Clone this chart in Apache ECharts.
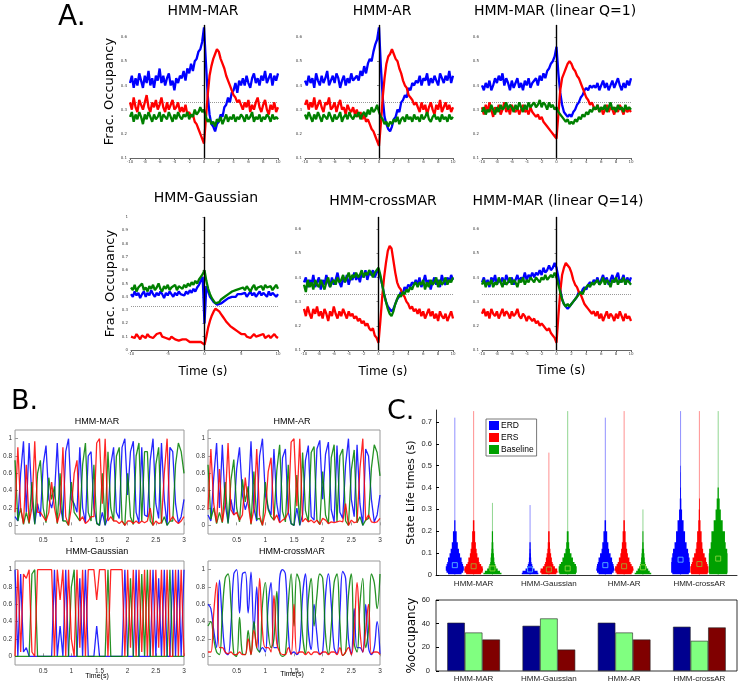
<!DOCTYPE html>
<html><head><meta charset="utf-8">
<script src="https://cdn.jsdelivr.net/npm/echarts@6/dist/echarts.min.js"></script>
<style>html,body{margin:0;padding:0;background:#fff}#c{width:740px;height:684px}</style>
</head><body><div id="c"></div>
<script>
// ---------------- DATA ----------------
const aTitles = ['HMM-MAR','HMM-AR','HMM-MAR (linear Q=1)','HMM-Gaussian','HMM-crossMAR','HMM-MAR (linear Q=14)'];
const bTitles = ['HMM-MAR','HMM-AR','HMM-Gaussian','HMM-crossMAR'];
const catsC = ['HMM-MAR','HMM-Gaussian','HMM-AR','HMM-crossAR'];
const stateNames = ['ERD','ERS','Baseline'];

const tA = [-10,-9.75,-9.5,-9.25,-9,-8.75,-8.5,-8.25,-8,-7.75,-7.5,-7.25,-7,-6.75,-6.5,-6.25,-6,-5.75,-5.5,-5.25,-5,-4.75,-4.5,-4.25,-4,-3.75,-3.5,-3.25,-3,-2.75,-2.5,-2.25,-2,-1.75,-1.5,-1.25,-1,-0.75,-0.5,-0.25,0,0.25,0.5,0.75,1,1.25,1.5,1.75,2,2.25,2.5,2.75,3,3.25,3.5,3.75,4,4.25,4.5,4.75,5,5.25,5.5,5.75,6,6.25,6.5,6.75,7,7.25,7.5,7.75,8,8.25,8.5,8.75,9,9.25,9.5,9.75,10];
const yTicksA = [0.1,0.2,0.3,0.4,0.5,0.6];
const yTicksGauss = [0,0.1,0.2,0.3,0.4,0.5,0.6,0.7,0.8,0.9,1];

// A1 HMM-MAR
const a1Blue = [0.41,0.44,0.39,0.43,0.40,0.45,0.42,0.39,0.44,0.41,0.46,0.40,0.43,0.39,0.44,0.42,0.47,0.41,0.44,0.40,0.43,0.45,0.40,0.42,0.38,0.43,0.41,0.44, 0.43,0.46,0.42,0.47,0.45,0.49,0.46,0.50,0.51,0.54,0.55,0.58,0.64, 0.50,0.36,0.28,0.24,0.23,0.21,0.24,0.25,0.28,0.27,0.31,0.32,0.35,0.33,0.37,0.38,0.41,0.37,0.42,0.40, 0.43,0.40,0.44,0.41,0.39,0.43,0.45,0.41,0.43,0.40,0.44,0.42,0.46,0.41,0.43,0.45,0.40,0.44,0.42,0.45];
const a1Red = [0.33,0.30,0.35,0.31,0.29,0.34,0.32,0.30,0.33,0.36,0.31,0.29,0.33,0.31,0.34,0.30,0.32,0.35,0.31,0.29,0.33,0.30,0.32,0.34,0.30,0.31,0.33,0.29, 0.31,0.29,0.32,0.28,0.29,0.27,0.28,0.25,0.24,0.22,0.20,0.18,0.16, 0.26,0.36,0.44,0.48,0.51,0.53,0.55,0.54,0.51,0.49,0.47,0.44,0.42,0.40,0.38,0.36,0.35,0.33,0.34,0.32, 0.30,0.33,0.31,0.34,0.29,0.32,0.30,0.33,0.35,0.31,0.29,0.32,0.34,0.30,0.28,0.32,0.30,0.33,0.29,0.31];
const a1Green = [0.27,0.29,0.25,0.28,0.26,0.29,0.27,0.24,0.28,0.26,0.29,0.27,0.25,0.28,0.26,0.27,0.29,0.25,0.28,0.27,0.26,0.29,0.27,0.25,0.28,0.26,0.29,0.27, 0.26,0.28,0.27,0.29,0.26,0.28,0.27,0.30,0.28,0.29,0.31,0.29,0.30, 0.27,0.25,0.26,0.24,0.25,0.23,0.26,0.25,0.27,0.24,0.26,0.28,0.25,0.27,0.26,0.28,0.25,0.27,0.26,0.28, 0.27,0.25,0.28,0.26,0.27,0.29,0.25,0.27,0.26,0.28,0.25,0.27,0.26,0.28,0.27,0.25,0.28,0.26,0.27,0.26];
// A2 HMM-AR
const a2Blue = [0.42,0.40,0.44,0.41,0.43,0.39,0.45,0.42,0.40,0.44,0.41,0.43,0.46,0.40,0.42,0.44,0.41,0.45,0.43,0.39,0.42,0.44,0.40,0.43,0.41,0.45,0.42,0.43, 0.44,0.42,0.46,0.44,0.48,0.45,0.49,0.51,0.50,0.54,0.57,0.59,0.64, 0.48,0.35,0.27,0.24,0.22,0.21,0.23,0.26,0.27,0.30,0.29,0.33,0.34,0.36,0.35,0.39,0.38,0.41,0.40,0.42, 0.41,0.44,0.40,0.43,0.42,0.45,0.40,0.43,0.41,0.44,0.42,0.40,0.45,0.43,0.41,0.44,0.42,0.46,0.41,0.44];
const a2Red = [0.32,0.34,0.30,0.33,0.31,0.35,0.30,0.32,0.34,0.31,0.29,0.33,0.32,0.35,0.30,0.31,0.33,0.29,0.32,0.34,0.30,0.31,0.28,0.32,0.30,0.29,0.31,0.28, 0.30,0.27,0.29,0.26,0.28,0.25,0.26,0.24,0.22,0.21,0.19,0.17,0.15, 0.24,0.35,0.43,0.49,0.52,0.53,0.55,0.53,0.51,0.50,0.47,0.45,0.42,0.40,0.39,0.36,0.35,0.34,0.32,0.33, 0.31,0.29,0.33,0.30,0.32,0.28,0.31,0.33,0.30,0.28,0.32,0.30,0.34,0.29,0.31,0.33,0.30,0.32,0.29,0.31];
const a2Green = [0.28,0.26,0.29,0.27,0.25,0.28,0.26,0.29,0.27,0.25,0.28,0.27,0.26,0.29,0.27,0.25,0.28,0.26,0.27,0.29,0.25,0.27,0.28,0.26,0.29,0.27,0.26,0.28, 0.27,0.29,0.26,0.28,0.29,0.27,0.30,0.28,0.31,0.29,0.30,0.32,0.29, 0.27,0.26,0.24,0.25,0.23,0.25,0.24,0.26,0.25,0.27,0.24,0.26,0.27,0.25,0.28,0.26,0.27,0.25,0.28,0.26, 0.27,0.25,0.28,0.26,0.27,0.29,0.26,0.25,0.27,0.28,0.26,0.27,0.25,0.28,0.26,0.27,0.25,0.28,0.26,0.27];
// A3 HMM-MAR (linear Q=1)
const a3Blue = [0.40,0.38,0.41,0.39,0.42,0.38,0.40,0.43,0.41,0.44,0.42,0.45,0.40,0.43,0.41,0.38,0.42,0.39,0.41,0.43,0.39,0.41,0.38,0.42,0.40,0.43,0.39,0.41, 0.41,0.43,0.40,0.44,0.42,0.45,0.43,0.46,0.47,0.49,0.50,0.52,0.56, 0.45,0.37,0.32,0.29,0.28,0.27,0.28,0.27,0.29,0.30,0.32,0.33,0.35,0.36,0.38,0.39,0.38,0.40,0.39,0.40, 0.39,0.41,0.38,0.40,0.42,0.39,0.41,0.38,0.40,0.42,0.39,0.41,0.43,0.40,0.38,0.41,0.39,0.42,0.40,0.43];
const a3Red = [0.31,0.28,0.32,0.29,0.33,0.30,0.27,0.31,0.29,0.32,0.28,0.30,0.33,0.29,0.31,0.28,0.32,0.30,0.29,0.31,0.28,0.30,0.32,0.29,0.30,0.28,0.31,0.29, 0.29,0.27,0.28,0.26,0.27,0.25,0.25,0.23,0.23,0.21,0.20,0.19,0.18, 0.28,0.38,0.43,0.45,0.47,0.49,0.50,0.49,0.47,0.46,0.44,0.43,0.41,0.39,0.37,0.35,0.34,0.32,0.33,0.31, 0.30,0.32,0.29,0.31,0.28,0.30,0.32,0.29,0.31,0.30,0.28,0.31,0.29,0.32,0.30,0.28,0.31,0.29,0.30,0.29];
const a3Green = [0.29,0.31,0.28,0.30,0.29,0.32,0.30,0.28,0.31,0.29,0.32,0.30,0.31,0.33,0.30,0.32,0.31,0.29,0.32,0.30,0.33,0.31,0.29,0.32,0.30,0.33,0.31,0.32, 0.33,0.31,0.32,0.34,0.31,0.33,0.32,0.30,0.33,0.31,0.32,0.30,0.31, 0.29,0.28,0.27,0.27,0.25,0.26,0.24,0.25,0.24,0.26,0.25,0.27,0.26,0.28,0.27,0.29,0.28,0.30,0.29,0.31, 0.30,0.32,0.29,0.31,0.30,0.32,0.29,0.31,0.33,0.30,0.31,0.29,0.32,0.30,0.31,0.29,0.32,0.30,0.31,0.30];
// A4 HMM-Gaussian
const a4Blue = [0.42,0.40,0.44,0.41,0.43,0.39,0.42,0.44,0.40,0.43,0.41,0.45,0.42,0.40,0.43,0.41,0.44,0.42,0.39,0.43,0.41,0.44,0.42,0.40,0.43,0.41,0.44,0.42, 0.43,0.41,0.44,0.42,0.45,0.43,0.46,0.44,0.47,0.49,0.52,0.55,0.20, 0.48,0.44,0.40,0.38,0.36,0.35,0.34,0.34,0.35,0.36,0.37,0.38,0.39,0.39,0.40,0.41,0.40,0.42,0.41,0.42, 0.41,0.43,0.40,0.42,0.44,0.41,0.43,0.40,0.42,0.44,0.41,0.43,0.42,0.40,0.44,0.41,0.43,0.42,0.40,0.42];
const a4Red = [0.10,0.11,0.09,0.12,0.10,0.08,0.11,0.10,0.09,0.12,0.10,0.11,0.09,0.10,0.12,0.11,0.13,0.10,0.11,0.09,0.10,0.08,0.10,0.09,0.08,0.09,0.07,0.08, 0.08,0.07,0.08,0.07,0.06,0.07,0.06,0.07,0.06,0.05,0.06,0.05,0.04, 0.10,0.17,0.22,0.26,0.29,0.31,0.30,0.29,0.27,0.25,0.23,0.21,0.20,0.18,0.17,0.16,0.15,0.14,0.13,0.12, 0.11,0.12,0.10,0.11,0.09,0.10,0.12,0.10,0.09,0.11,0.10,0.12,0.09,0.10,0.11,0.09,0.10,0.12,0.10,0.09];
const a4Green = [0.47,0.45,0.49,0.44,0.47,0.46,0.50,0.45,0.47,0.44,0.48,0.46,0.49,0.45,0.47,0.50,0.46,0.44,0.48,0.46,0.49,0.45,0.47,0.46,0.49,0.45,0.48,0.47, 0.46,0.49,0.47,0.50,0.48,0.51,0.49,0.52,0.50,0.53,0.55,0.57,0.60, 0.52,0.46,0.42,0.39,0.37,0.35,0.35,0.36,0.38,0.39,0.40,0.41,0.42,0.43,0.44,0.43,0.45,0.44,0.46,0.45, 0.47,0.45,0.48,0.46,0.44,0.47,0.49,0.45,0.47,0.46,0.48,0.45,0.49,0.47,0.46,0.48,0.45,0.47,0.49,0.46];
// A5 HMM-crossMAR
const a5Blue = [0.38,0.40,0.36,0.39,0.37,0.41,0.36,0.38,0.40,0.35,0.39,0.37,0.41,0.38,0.36,0.40,0.37,0.39,0.42,0.38,0.36,0.40,0.38,0.41,0.37,0.40,0.39,0.42, 0.39,0.41,0.38,0.42,0.40,0.43,0.39,0.42,0.41,0.43,0.40,0.42,0.43, 0.40,0.37,0.33,0.30,0.28,0.27,0.26,0.27,0.29,0.31,0.32,0.34,0.33,0.36,0.35,0.37,0.36,0.38,0.37,0.39, 0.37,0.40,0.36,0.38,0.41,0.37,0.39,0.35,0.38,0.40,0.37,0.39,0.36,0.41,0.38,0.37,0.40,0.38,0.41,0.39];
const a5Red = [0.27,0.24,0.28,0.25,0.23,0.27,0.25,0.28,0.24,0.26,0.23,0.27,0.25,0.22,0.26,0.24,0.28,0.25,0.23,0.26,0.24,0.27,0.25,0.23,0.26,0.24,0.25,0.23, 0.24,0.22,0.23,0.21,0.22,0.20,0.21,0.19,0.18,0.19,0.16,0.15,0.13, 0.22,0.32,0.40,0.46,0.51,0.53,0.52,0.47,0.42,0.38,0.36,0.35,0.33,0.32,0.30,0.29,0.27,0.28,0.26,0.27, 0.25,0.27,0.24,0.26,0.23,0.25,0.27,0.24,0.26,0.23,0.25,0.22,0.26,0.24,0.23,0.25,0.22,0.24,0.26,0.23];
const a5Green = [0.37,0.34,0.39,0.36,0.38,0.35,0.39,0.37,0.36,0.39,0.37,0.35,0.38,0.40,0.36,0.38,0.39,0.37,0.40,0.38,0.39,0.41,0.38,0.40,0.42,0.39,0.41,0.40, 0.42,0.40,0.41,0.43,0.40,0.42,0.41,0.43,0.42,0.40,0.42,0.43,0.44, 0.41,0.37,0.33,0.30,0.27,0.25,0.24,0.26,0.29,0.31,0.33,0.32,0.34,0.33,0.35,0.34,0.36,0.35,0.37,0.38, 0.36,0.38,0.37,0.39,0.35,0.38,0.36,0.39,0.37,0.38,0.40,0.36,0.39,0.37,0.38,0.40,0.37,0.39,0.38,0.40];
// A6 HMM-MAR (linear Q=14)
const a6Blue = [0.38,0.40,0.37,0.39,0.36,0.40,0.38,0.41,0.37,0.39,0.38,0.40,0.37,0.41,0.39,0.38,0.40,0.37,0.39,0.41,0.38,0.40,0.39,0.42,0.39,0.41,0.40,0.42, 0.40,0.42,0.41,0.43,0.41,0.44,0.42,0.43,0.45,0.43,0.44,0.46,0.44, 0.40,0.35,0.31,0.29,0.28,0.27,0.28,0.29,0.30,0.31,0.32,0.34,0.33,0.35,0.36,0.35,0.37,0.38,0.37,0.39, 0.38,0.40,0.37,0.39,0.41,0.38,0.40,0.37,0.39,0.41,0.38,0.40,0.42,0.38,0.39,0.41,0.37,0.40,0.38,0.40];
const a6Red = [0.25,0.27,0.24,0.26,0.23,0.27,0.25,0.24,0.26,0.23,0.25,0.27,0.24,0.26,0.25,0.23,0.26,0.24,0.25,0.27,0.24,0.23,0.25,0.24,0.22,0.24,0.23,0.22, 0.23,0.21,0.22,0.20,0.21,0.20,0.19,0.18,0.19,0.17,0.16,0.15,0.13, 0.24,0.34,0.41,0.44,0.46,0.46,0.44,0.42,0.39,0.37,0.36,0.34,0.33,0.31,0.29,0.28,0.27,0.26,0.25,0.26, 0.24,0.26,0.23,0.25,0.22,0.24,0.26,0.23,0.25,0.24,0.22,0.25,0.23,0.26,0.24,0.22,0.25,0.23,0.24,0.22];
const a6Green = [0.37,0.39,0.36,0.38,0.37,0.39,0.36,0.38,0.37,0.40,0.38,0.36,0.39,0.37,0.38,0.40,0.37,0.39,0.38,0.36,0.39,0.38,0.40,0.37,0.39,0.38,0.40,0.39, 0.38,0.40,0.39,0.38,0.40,0.39,0.41,0.39,0.40,0.41,0.40,0.42,0.40, 0.37,0.34,0.31,0.29,0.28,0.29,0.28,0.29,0.30,0.31,0.32,0.33,0.34,0.33,0.35,0.36,0.37,0.36,0.38,0.37, 0.38,0.39,0.37,0.38,0.40,0.37,0.39,0.38,0.36,0.39,0.38,0.40,0.37,0.39,0.38,0.40,0.37,0.39,0.38,0.37];

// Panel B: state probabilities, 0..3 s
const tB = [0,0.05,0.1,0.15,0.2,0.25,0.3,0.35,0.4,0.45,0.5,0.55,0.6,0.65,0.7,0.75,0.8,0.85,0.9,0.95,1,1.05,1.1,1.15,1.2,1.25,1.3,1.35,1.4,1.45,1.5,1.55,1.6,1.65,1.7,1.75,1.8,1.85,1.9,1.95,2,2.05,2.1,2.15,2.2,2.25,2.3,2.35,2.4,2.45,2.5,2.55,2.6,2.65,2.7,2.75,2.8,2.85,2.9,2.95,3];
const xTicksB = [0.5,1,1.5,2,2.5,3];
const yTicksB = [0,0.2,0.4,0.6,0.8,1];
const b1Blue = [0.10,0.05,0.60,0.97,0.15,0.95,0.30,0.02,0.25,0.10,0.70,0.92,0.30,0.20,0.35,0.95,0.25,0.05,0.85,1.00,0.30,0.25,0.15,0.90,0.20,0.03,0.80,0.85,0.20,0.03,0.00,0.15,0.00,0.10,0.70,0.90,0.15,0.08,0.90,1.00,0.35,0.85,0.97,0.15,0.03,0.90,0.12,0.10,0.75,1.00,0.25,0.08,0.95,0.30,0.00,0.90,0.85,0.25,0.03,0.10,0.30];
const b1Red = [0.15,0.90,0.20,0.02,0.70,0.03,0.20,0.97,0.15,0.15,0.10,0.05,0.15,0.50,0.20,0.03,0.15,0.90,0.10,0.00,0.20,0.60,0.75,0.05,0.10,0.02,0.05,0.10,0.10,0.95,1.00,0.25,1.00,0.05,0.10,0.05,0.05,0.02,0.05,0.00,0.05,0.05,0.02,0.05,0.02,0.05,0.03,0.05,0.20,0.00,0.05,0.02,0.03,0.60,1.00,0.05,0.10,0.05,0.02,0.05,0.10];
const b1Green = [0.75,0.05,0.20,0.01,0.15,0.02,0.50,0.01,0.60,0.75,0.20,0.03,0.55,0.30,0.45,0.02,0.60,0.05,0.05,0.00,0.50,0.15,0.10,0.05,0.70,0.95,0.15,0.05,0.70,0.02,0.00,0.60,0.00,0.85,0.20,0.05,0.80,0.90,0.05,0.00,0.60,0.10,0.01,0.80,0.95,0.05,0.85,0.85,0.05,0.00,0.70,0.90,0.02,0.10,0.00,0.05,0.05,0.70,0.95,0.85,0.60];
const b2Blue = [0.12,0.05,0.55,0.95,0.20,0.93,0.25,0.03,0.30,0.12,0.65,0.90,0.35,0.18,0.30,0.97,0.20,0.05,0.80,1.00,0.35,0.20,0.12,0.88,0.25,0.04,0.78,0.88,0.15,0.02,0.00,0.20,0.00,0.12,0.75,0.92,0.10,0.06,0.88,0.98,0.30,0.82,0.96,0.18,0.04,0.92,0.15,0.08,0.70,1.00,0.30,0.10,0.93,0.25,0.00,0.88,0.80,0.30,0.04,0.12,0.35];
const b2Red = [0.18,0.88,0.25,0.03,0.65,0.04,0.25,0.95,0.18,0.12,0.15,0.06,0.12,0.55,0.25,0.02,0.18,0.88,0.12,0.00,0.15,0.62,0.78,0.06,0.12,0.03,0.06,0.08,0.15,0.96,1.00,0.22,1.00,0.04,0.08,0.04,0.06,0.03,0.06,0.01,0.08,0.06,0.02,0.04,0.03,0.04,0.05,0.04,0.25,0.00,0.06,0.03,0.04,0.65,1.00,0.06,0.12,0.04,0.03,0.04,0.08];
const b2Green = [0.70,0.07,0.20,0.02,0.15,0.03,0.50,0.02,0.52,0.76,0.20,0.04,0.53,0.27,0.45,0.01,0.62,0.07,0.08,0.00,0.50,0.18,0.10,0.06,0.63,0.93,0.16,0.04,0.70,0.02,0.00,0.58,0.00,0.84,0.17,0.04,0.84,0.91,0.06,0.01,0.62,0.12,0.02,0.78,0.93,0.04,0.80,0.88,0.05,0.00,0.64,0.87,0.03,0.10,0.00,0.06,0.08,0.66,0.93,0.84,0.57];
const b3Blue = [1.00,0.00,0.95,0.05,0.10,0.00,0.00,0.00,0.00,0.00,0.00,0.00,0.00,0.00,1.00,0.00,0.35,0.00,1.00,0.00,0.00,0.00,0.00,0.90,0.00,1.00,0.00,0.00,0.00,0.35,0.00,0.00,0.00,0.00,0.00,0.00,0.00,0.00,0.00,1.00,0.00,0.00,0.00,1.00,0.00,0.00,0.00,0.00,0.00,1.00,0.00,0.90,0.00,1.00,0.00,0.00,1.00,0.00,1.00,0.00,1.00];
const b3Red = [0.00,1.00,0.05,0.95,0.90,1.00,0.05,0.00,1.00,1.00,1.00,1.00,1.00,1.00,0.00,1.00,0.65,1.00,0.00,1.00,0.20,0.00,1.00,0.10,1.00,0.00,1.00,1.00,1.00,0.65,1.00,1.00,1.00,0.00,1.00,1.00,1.00,1.00,1.00,0.00,1.00,0.10,1.00,0.00,1.00,0.05,1.00,0.00,1.00,0.00,1.00,0.10,1.00,0.00,1.00,0.00,0.00,1.00,0.00,1.00,0.00];
const b3Green = [0.00,0.00,0.00,0.00,0.00,0.00,0.95,1.00,0.00,0.00,0.00,0.00,0.00,0.00,0.00,0.00,0.00,0.00,0.00,0.00,0.80,1.00,0.00,0.00,0.00,0.00,0.00,0.00,0.00,0.00,0.00,0.00,0.00,1.00,0.00,0.00,0.00,0.00,0.00,0.00,0.00,0.90,0.00,0.00,0.00,0.95,0.00,1.00,0.00,0.00,0.00,0.00,0.00,0.00,0.00,1.00,0.00,0.00,0.00,0.00,0.00];
const b4Blue = [0.60,0.55,0.30,0.10,0.88,0.40,0.05,0.02,0.35,0.95,1.00,0.50,0.95,0.97,0.50,0.97,0.30,0.80,0.05,0.10,0.05,0.60,0.85,0.10,0.10,0.90,1.00,0.95,0.30,0.03,0.05,0.02,0.10,0.70,0.95,0.30,0.08,0.60,0.25,0.03,0.05,0.70,0.95,0.60,0.10,0.03,0.50,0.98,0.90,0.20,0.03,0.55,0.10,0.10,0.05,0.60,0.10,0.02,0.10,0.40,0.03];
const b4Red = [0.05,0.05,0.50,0.85,0.10,0.10,0.05,0.03,0.05,0.02,0.02,0.05,0.02,0.02,0.20,0.02,0.30,0.10,0.90,0.30,0.10,0.10,0.05,0.70,0.15,0.05,0.02,0.02,0.10,0.02,0.60,0.03,0.05,0.05,0.02,0.05,0.02,0.05,0.05,0.02,0.05,0.05,0.02,0.05,0.05,0.02,0.10,0.01,0.05,0.10,0.02,0.30,0.85,0.30,0.05,0.30,0.60,0.03,0.05,0.05,0.02];
const b4Green = [0.35,0.40,0.20,0.05,0.02,0.50,0.90,0.95,0.60,0.03,0.00,0.45,0.03,0.02,0.30,0.02,0.40,0.10,0.05,0.60,0.85,0.30,0.10,0.20,0.75,0.05,0.00,0.03,0.60,0.95,0.35,0.95,0.85,0.25,0.03,0.65,0.90,0.35,0.70,0.95,0.90,0.25,0.03,0.35,0.85,0.95,0.40,0.01,0.05,0.70,0.95,0.15,0.05,0.60,0.90,0.10,0.30,0.95,0.85,0.55,0.95];

// Panel C: state life-time distributions (half-widths of histogram bins, x units)
const vEdges = [0.004,0.01,0.02,0.03,0.04,0.05,0.06,0.08,0.10,0.12,0.15,0.20,0.25,0.30,0.35,0.40,0.47,0.5];
const yTicksV = [0,0.1,0.2,0.3,0.4,0.5,0.6,0.7];
const vMaxERD = [0.72,0.32,0.72,0.75];
const vMaxERS = [0.75,0.56,0.75,0.75];
const vMaxBase = [0.33,0.75,0.30,0.75];
const vWidthERD = [
  [0.09,0.11,0.12,0.12,0.11,0.10,0.09,0.07,0.055,0.04,0.025,0.008,0,0,0,0,0],
  [0.11,0.10,0.06,0.04,0.03,0.02,0.015,0.012,0.01,0.008,0,0,0,0,0,0,0],
  [0.09,0.11,0.12,0.115,0.11,0.10,0.09,0.07,0.05,0.04,0.025,0.01,0,0,0,0,0],
  [0.11,0.125,0.125,0.125,0.125,0.125,0.12,0.11,0.10,0.08,0.06,0.04,0.02,0.01,0.006,0.004,0.003]];
const vWidthERS = [
  [0.10,0.12,0.125,0.12,0.10,0.08,0.07,0.05,0.04,0.03,0.02,0.01,0,0,0,0,0],
  [0.10,0.115,0.11,0.08,0.06,0.05,0.04,0.03,0.02,0.015,0.01,0,0,0,0,0,0],
  [0.10,0.115,0.125,0.12,0.10,0.085,0.07,0.05,0.04,0.03,0.02,0.01,0,0,0,0,0],
  [0.11,0.12,0.12,0.12,0.11,0.10,0.09,0.07,0.05,0.04,0.03,0.015,0.008,0.005,0,0,0]];
const vWidthBase = [
  [0.12,0.10,0.07,0.05,0.04,0.03,0.025,0.02,0.015,0.012,0.008,0,0,0,0,0,0],
  [0.11,0.12,0.12,0.12,0.11,0.09,0.07,0.05,0.03,0.02,0.012,0,0,0,0,0,0],
  [0.11,0.09,0.07,0.05,0.04,0.03,0.025,0.02,0.015,0.01,0.006,0,0,0,0,0,0],
  [0.12,0.125,0.125,0.125,0.125,0.125,0.125,0.125,0.12,0.10,0.09,0.06,0.035,0.02,0.008,0,0]];
const vMedERD = [0.045,0.025,0.045,0.07];
const vMedERS = [0.04,0.025,0.04,0.05];
const vMedBase = [0.03,0.03,0.035,0.075];
const yTicksOcc = [0,20,40,60];
const occERD = [40.8,38.2,40.8,37.4];
const occERS = [32.5,44.4,32.5,25.5];
const occBase = [26.6,18.1,26.6,36.8];

// ---------------- STYLE / LAYOUT ----------------
const BLUE='#0000ff', RED='#ff0000', GREEN='#008000';
const FA='DejaVu Sans', FB='Liberation Sans';
const gridsA = [[130,25,148,133],[305,25,148,133],[482,25,149,133],[131,217,147,133],[304,217,149,133],[482,217,149,133]];
const gridsB = [[12,430,172,104],[208,430,172,104],[12,561,172,104],[208,561,172,104]];
const grids=[], xAxes=[], yAxes=[], series=[];

gridsA.forEach((g,i)=>{
  grids.push({left:g[0],top:g[1],width:g[2],height:g[3]});
  const gauss = i===3;
  xAxes.push({gridIndex:i,type:'value',min:-10,max:10,interval:gauss?5:2,
    axisLine:{show:true,onZero:false,lineStyle:{color:'#666',width:1}},
    axisTick:{show:true,length:2,lineStyle:{color:'#666'}},
    axisLabel:{fontSize:4,color:'#444',margin:2,fontFamily:FA},splitLine:{show:false}});
  yAxes.push({gridIndex:i,type:'value',min:gauss?0:0.1,max:gauss?1:0.65,
    axisLine:{show:true,lineStyle:{color:'#aaa',width:1}},
    axisTick:{show:true,length:2,customValues:gauss?yTicksGauss:yTicksA,lineStyle:{color:'#888'}},
    axisLabel:{fontSize:4,color:'#444',margin:3,fontFamily:FA,customValues:gauss?yTicksGauss:yTicksA},
    splitLine:{show:false},
    name:(i===0||i===3)?'Frac. Occupancy':'',nameLocation:'middle',nameGap:14,
    nameTextStyle:{fontSize:13,fontFamily:FA,color:'#000'}});
});
const aData = [[a1Blue,a1Red,a1Green],[a2Blue,a2Red,a2Green],[a3Blue,a3Red,a3Green],[a4Blue,a4Red,a4Green],[a5Blue,a5Red,a5Green],[a6Blue,a6Red,a6Green]];
const cols=[BLUE,RED,GREEN];
aData.forEach((set,i)=>{
  set.forEach((arr,k)=>{
    const s={type:'line',xAxisIndex:i,yAxisIndex:i,showSymbol:false,silent:true,
      data:arr.map((v,j)=>[tA[j],v]),lineStyle:{color:cols[k],width:2.3},itemStyle:{color:cols[k]}};
    if(k===0) s.markLine={silent:true,symbol:'none',label:{show:false},z:1,data:[{yAxis:1/3,lineStyle:{color:'#999',type:'dotted',width:1}}]};
    if(k===2) s.markLine={silent:true,symbol:'none',label:{show:false},data:[{xAxis:0,lineStyle:{color:'#000',type:'solid',width:1.4}}]};
    series.push(s);
  });
});

const bData=[[b1Blue,b1Red,b1Green],[b2Blue,b2Red,b2Green],[b3Blue,b3Red,b3Green],[b4Blue,b4Red,b4Green]];
gridsB.forEach((g,j)=>{
  const i=6+j;
  grids.push({left:g[0],top:g[1],width:g[2],height:g[3],show:true,borderColor:'#999',borderWidth:1,backgroundColor:'transparent'});
  xAxes.push({gridIndex:i,type:'value',min:0,max:3,axisLine:{show:false},
    axisTick:{show:true,inside:true,length:3,customValues:xTicksB,lineStyle:{color:'#999'}},
    axisLabel:{fontSize:6.5,color:'#333',margin:3,fontFamily:FB,customValues:xTicksB},splitLine:{show:false}});
  yAxes.push({gridIndex:i,type:'value',min:-0.1,max:1.1,axisLine:{show:false},
    axisTick:{show:true,inside:true,length:3,customValues:yTicksB,lineStyle:{color:'#999'}},
    axisLabel:{fontSize:6.5,color:'#333',margin:3,fontFamily:FB,customValues:yTicksB},splitLine:{show:false}});
  const order=[0,2,1];
  order.forEach(k=>{
    series.push({type:'line',xAxisIndex:i,yAxisIndex:i,showSymbol:false,silent:true,smooth:j===3?0.4:false,
      data:bData[j][k].map((v,n)=>[tB[n],v]),lineStyle:{color:cols[k],width:1.3,opacity:0.85}});
  });
});

// violin grid (10)
grids.push({left:436,top:410,width:301,height:165});
xAxes.push({gridIndex:10,type:'value',min:0.5,max:4.5,
  axisLine:{show:true,onZero:false,lineStyle:{color:'#000',width:0.8}},axisTick:{show:false},
  axisLabel:{fontSize:8,color:'#222',margin:5,fontFamily:FB,customValues:[1,2,3,4],formatter:v=>catsC[Math.round(v)-1]},splitLine:{show:false}});
yAxes.push({gridIndex:10,type:'value',min:0,max:0.755,
  axisLine:{show:true,lineStyle:{color:'#000',width:0.8}},
  axisTick:{show:true,inside:true,length:3,customValues:yTicksV},
  axisLabel:{fontSize:7.5,color:'#222',margin:4,fontFamily:FB,customValues:yTicksV},splitLine:{show:false},
  name:'State Life times (s)',nameLocation:'middle',nameGap:19,nameTextStyle:{fontSize:11,fontFamily:FA,color:'#000'}});
function violin(name,color,off,widths,maxes){
  return {type:'custom',name,xAxisIndex:10,yAxisIndex:10,itemStyle:{color},silent:true,
    data:catsC.map((c,i)=>[i+1+off,maxes[i]]),encode:{x:0,y:1},
    renderItem:(params,api)=>{
      const w=widths[params.dataIndex]; const cx=api.value(0);
      const L=[],R=[];
      for(let k=0;k<w.length;k++){ if(w[k]<=0) break;
        L.push(api.coord([cx-w[k],vEdges[k]]),api.coord([cx-w[k],vEdges[k+1]]));
        R.push(api.coord([cx+w[k],vEdges[k]]),api.coord([cx+w[k],vEdges[k+1]])); }
      const pts=L.concat(R.reverse());
      const b=api.coord([cx,0]), t=api.coord([cx,api.value(1)]);
      return {type:'group',children:[
        {type:'line',shape:{x1:b[0],y1:b[1],x2:t[0],y2:t[1]},style:{stroke:color,lineWidth:0.8,opacity:0.55}},
        {type:'polygon',shape:{points:pts},style:{fill:color}}]};
    }};
}
series.push(violin('ERD',BLUE,-0.25,vWidthERD,vMaxERD));
series.push(violin('ERS',RED,0,vWidthERS,vMaxERS));
series.push(violin('Baseline','#00a000',0.25,vWidthBase,vMaxBase));
[[vMedERD,-0.25,'#66ccff'],[vMedERS,0,'#99bb33'],[vMedBase,0.25,'#99dd44']].forEach(m=>{
  series.push({type:'scatter',name:'med',xAxisIndex:10,yAxisIndex:10,silent:true,symbol:'rect',symbolSize:5,
    data:m[0].map((v,i)=>[i+1+m[1],v]),itemStyle:{color:'rgba(0,0,0,0)',borderColor:m[2],borderWidth:1},z:5});
});

// bar grid (11)
grids.push({left:436,top:600,width:301,height:71,show:true,borderColor:'#000',borderWidth:0.8,backgroundColor:'transparent'});
xAxes.push({gridIndex:11,type:'category',data:catsC,axisLine:{show:false},axisTick:{show:false},
  axisLabel:{fontSize:8,color:'#222',margin:4,fontFamily:FB},splitLine:{show:false}});
yAxes.push({gridIndex:11,type:'value',min:0,max:60,interval:20,axisLine:{show:false},
  axisTick:{show:true,inside:true,length:3,lineStyle:{color:'#000'}},
  axisLabel:{fontSize:7.5,color:'#222',margin:6,fontFamily:FB},splitLine:{show:false},
  name:'%occupancy',nameLocation:'middle',nameGap:14,nameTextStyle:{fontSize:12,fontFamily:FA,color:'#000'}});
[[occERD,'#00008f'],[occERS,'#80ff80'],[occBase,'#800000']].forEach((b,k)=>{
  series.push({type:'bar',name:'occ'+k,xAxisIndex:11,yAxisIndex:11,data:b[0],silent:true,
    barGap:'0%',barCategoryGap:'30%',itemStyle:{color:b[1],borderColor:'#222',borderWidth:0.6}});
});

function txt(x,y,s,size,fam){return {type:'text',x,y,silent:true,style:{text:s,fontSize:size,fontFamily:fam,fill:'#000',align:'center',verticalAlign:'middle'}};}
const gfx=[
  {type:'text',x:58,y:18,style:{text:'A.',fontSize:28,fontFamily:FA,fill:'#000',align:'left',verticalAlign:'middle'}},
  {type:'text',x:11,y:402,style:{text:'B.',fontSize:27,fontFamily:FA,fill:'#000',align:'left',verticalAlign:'middle'}},
  {type:'text',x:387,y:412,style:{text:'C.',fontSize:27,fontFamily:FA,fill:'#000',align:'left',verticalAlign:'middle'}},
  txt(203,11,aTitles[0],14,FA),txt(382,11,aTitles[1],14,FA),txt(555,11,aTitles[2],14,FA),
  txt(206,198,aTitles[3],14,FA),txt(383,201,aTitles[4],14,FA),txt(558,201,aTitles[5],14,FA),
  txt(203,372,'Time (s)',12,FA),txt(383,372,'Time (s)',12,FA),txt(561,371,'Time (s)',12,FA),
  txt(97,422,bTitles[0],9,FB),txt(292,422,bTitles[1],9,FB),txt(97,552,bTitles[2],9,FB),txt(292,552,bTitles[3],9,FB),
  txt(97,676,'Time(s)',7,FB),txt(292,674,'Time(s)',7,FB)
];

const chart=echarts.init(document.getElementById('c'),null,{renderer:'canvas'});
chart.setOption({
  animation:false,backgroundColor:'#fff',
  grid:grids,xAxis:xAxes,yAxis:yAxes,series,graphic:gfx,
  legend:{data:stateNames,orient:'vertical',left:486,top:419,itemWidth:10,itemHeight:9,itemGap:3,padding:[2,3],
    borderColor:'#555',borderWidth:0.8,icon:'rect',selectedMode:false,textStyle:{fontSize:8.5,fontFamily:FB,color:'#000',padding:[0,0,0,-3]}}
});
</script></body></html>
